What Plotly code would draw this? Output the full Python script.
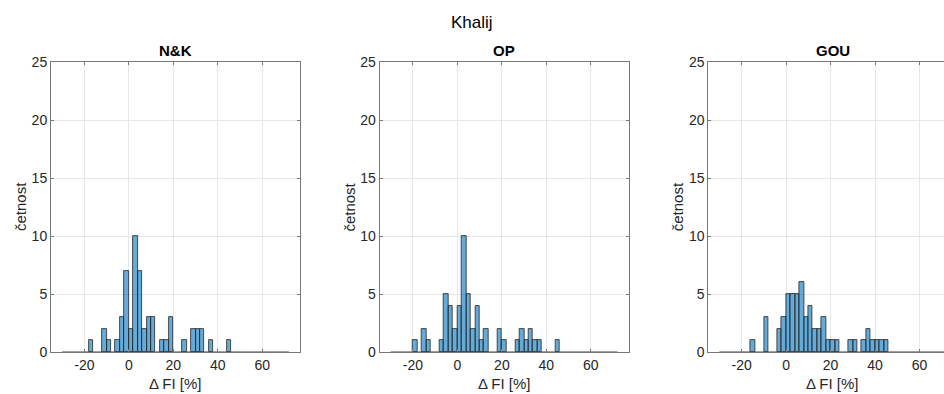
import plotly.graph_objects as go

# ---- data (histogram counts, bin width 2, bins spanning -30..72) ----
bin_width = 2
hist_range = [-30, 72]
titles = ["N&K", "OP", "GOU"]
suptitle = "Khalij"
xlabel = "Δ FI [%]"
ylabel = "četnost"
x_ticks = [-20, 0, 20, 40, 60]
x_ticklabels = ["-20", "0", "20", "40", "60"]
y_ticks = [0, 5, 10, 15, 20, 25]

nk_bins = [-18, -12, -10, -6, -4, -2, 0, 2, 4, 6, 8, 10, 14, 16, 18, 24, 28, 30, 32, 36, 44]
nk_counts = [1, 2, 1, 1, 3, 7, 2, 10, 7, 2, 3, 3, 1, 1, 3, 1, 2, 2, 2, 1, 1]

op_bins = [-20, -16, -14, -8, -6, -4, -2, 0, 2, 4, 6, 8, 10, 12, 18, 20, 26, 28, 30, 32, 34, 36, 44]
op_counts = [1, 2, 1, 1, 5, 4, 2, 4, 10, 5, 2, 4, 1, 2, 2, 1, 1, 2, 1, 2, 1, 1, 1]

gou_bins = [-16, -10, -4, -2, 0, 2, 4, 6, 8, 10, 12, 14, 16, 18, 20, 22, 28, 30, 34, 36, 38, 40, 42, 44]
gou_counts = [1, 3, 2, 3, 5, 5, 5, 6, 3, 4, 2, 2, 3, 1, 1, 1, 1, 1, 1, 2, 1, 1, 1, 1]

series = [(nk_bins, nk_counts), (op_bins, op_counts), (gou_bins, gou_counts)]

# ---- layout geometry (pixels) ----
W, H = 944, 394
ax_left_px = [51, 379.6, 708.3]
ax_width_px = 249
ax_top_px, ax_bot_px = 62, 352
x_full = [-35, 77]

def px_x(p):
    return p / W

def px_y(p):
    return 1 - p / H

FONT = "Liberation Sans, Arial, sans-serif"
TXT = "rgb(38,38,38)"
AXC = "rgb(120,120,120)"
GRID = "rgb(230,230,230)"

fig = go.Figure()
layout = dict(
    width=W, height=H, autosize=False,
    margin=dict(l=0, r=0, t=0, b=0, pad=0, autoexpand=False),
    paper_bgcolor="white", plot_bgcolor="white",
    showlegend=False,
    font=dict(family=FONT, color=TXT, size=14),
    bargap=0,
)
annotations = []

for i, (bins, counts) in enumerate(series):
    xa = "x" if i == 0 else f"x{i+1}"
    ya = "y" if i == 0 else f"y{i+1}"
    left = ax_left_px[i]
    right = left + ax_width_px
    scale = (x_full[1] - x_full[0]) / ax_width_px
    r_px = min(right, W)
    xr = [x_full[0], x_full[0] + (r_px - left) * scale]

    # zero-count bins baseline
    fig.add_trace(go.Scatter(
        x=hist_range, y=[0, 0], mode="lines",
        line=dict(color="rgb(60,60,60)", width=1),
        xaxis=xa, yaxis=ya, hoverinfo="skip"))
    fig.add_trace(go.Bar(
        x=[b + bin_width / 2 for b in bins], y=counts, width=bin_width,
        marker=dict(color="rgba(0,114,189,0.6)",
                    line=dict(color="rgb(38,38,38)", width=0.8)),
        xaxis=xa, yaxis=ya))

    xkey = "xaxis" if i == 0 else f"xaxis{i+1}"
    ykey = "yaxis" if i == 0 else f"yaxis{i+1}"
    layout[xkey] = dict(
        domain=[px_x(left), px_x(r_px)], range=xr, anchor=ya,
        tickvals=x_ticks, ticktext=x_ticklabels,
        ticks="inside", ticklen=3, tickcolor=AXC,
        showline=True, linecolor=AXC, linewidth=1, mirror="ticks",
        showgrid=True, gridcolor=GRID, zeroline=False, automargin=False,
        tickfont=dict(size=14, color=TXT, family=FONT),
    )
    layout[ykey] = dict(
        domain=[px_y(ax_bot_px), px_y(ax_top_px)], range=[0, 25], anchor=xa,
        tickvals=y_ticks, ticks="inside", ticklen=3, tickcolor=AXC,
        showline=True, linecolor=AXC, linewidth=1,
        mirror="ticks" if right <= W else False,
        showgrid=True, gridcolor=GRID, zeroline=False, automargin=False,
        tickfont=dict(size=14, color=TXT, family=FONT),
    )
    cx = left + ax_width_px / 2
    annotations.append(dict(
        text=f"<b>{titles[i]}</b>", x=px_x(cx), y=px_y(50), xref="paper", yref="paper",
        showarrow=False, xanchor="center", yanchor="middle",
        font=dict(size=15, color="black", family=FONT)))
    annotations.append(dict(
        text=xlabel, x=px_x(cx), y=px_y(383), xref="paper", yref="paper",
        showarrow=False, xanchor="center", yanchor="middle",
        font=dict(size=15, color=TXT, family=FONT)))
    annotations.append(dict(
        text=ylabel, x=px_x(left - 31), y=px_y((ax_top_px + ax_bot_px) / 2),
        xref="paper", yref="paper", textangle=-90,
        showarrow=False, xanchor="center", yanchor="middle",
        font=dict(size=15, color=TXT, family=FONT)))

annotations.append(dict(
    text=suptitle, x=px_x(472), y=px_y(22), xref="paper", yref="paper",
    showarrow=False, xanchor="center", yanchor="middle",
    font=dict(size=17, color="black", family=FONT)))

layout["annotations"] = annotations
fig.update_layout(**layout)
fig.write_html("out.html")
